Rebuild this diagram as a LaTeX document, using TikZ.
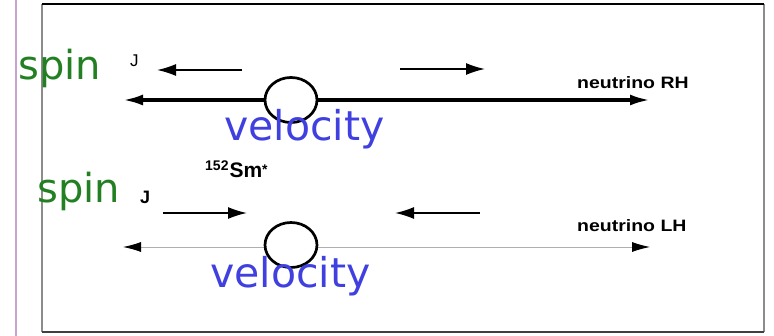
\documentclass[tikz,border=0pt]{standalone}
\usepackage{fontspec}
\setmainfont{DejaVu Sans}
\newfontfamily\labelfont{Liberation Sans}
\usetikzlibrary{arrows.meta,shapes.geometric}
\definecolor{spingreen}{RGB}{34,128,34}
\definecolor{velblue}{RGB}{64,64,224}
\definecolor{framegray}{RGB}{140,140,140}
\definecolor{slidepurple}{RGB}{200,160,210}
\begin{document}
\begin{tikzpicture}[x=1pt,y=-1pt,
  spinlabel/.style={text=spingreen,inner sep=0pt,font=\fontsize{40}{40}\selectfont},
  vellabel/.style={text=velblue,inner sep=0pt,font=\fontsize{41}{41}\selectfont},
  smalllabel/.style={inner sep=0pt,font=\labelfont\bfseries\fontsize{16.5}{16.5}\selectfont,xscale=1.18},
  jlabel/.style={inner sep=0pt,font=\labelfont\bfseries\fontsize{18}{18}\selectfont},
  spinarrow/.style={line width=1.7pt,-{Latex[length=19pt,width=12pt]}},
  velthick/.style={line width=3.4pt,{Latex[length=20pt,width=11pt]}-{Latex[length=20pt,width=11pt]}},
  velthin/.style={line width=0.9pt,draw=framegray!70,{Latex[length=18pt,width=10pt,fill=black,color=black]}-{Latex[length=18pt,width=10pt,fill=black,color=black]}},
  nucleus/.style={draw=black,line width=2.7pt,fill=white,ellipse,minimum width=52pt,minimum height=45pt,inner sep=0pt}
]
\useasboundingbox (0,0) rectangle (774,336);
\fill[white] (0,0) rectangle (774,336);

% slide edge and frame
\draw[slidepurple,line width=1.2pt] (16,0) -- (16,336);
\draw[framegray,line width=1.5pt] (42,4) -- (42,332);
\draw[framegray,line width=1.5pt] (764,4) -- (764,332);
\draw[black!75,line width=2pt] (42,332) -- (764,332);
\draw[black,line width=2.5pt] (42,4) -- (764,4);

% ---- right-handed neutrino (upper row) ----
\coordinate (vRa) at (123,100);
\coordinate (vRb) at (650,100);
\draw[velthick] (vRa) -- (vRb);
\node[nucleus] (nucR) at (291,100) {};
\coordinate (sRa1) at (242,70);
\coordinate (sRb1) at (157,70);
\coordinate (sRa2) at (400,69);
\coordinate (sRb2) at (485,69);
\draw[spinarrow] (sRa1) -- (sRb1);
\draw[spinarrow] (sRa2) -- (sRb2);
\node[spinlabel,anchor=base west] (spinR) at (18,80) {spin};
\node[jlabel,anchor=base west,font=\labelfont\fontsize{17}{17}\selectfont] (jR) at (130,67) {J};
\node[smalllabel,anchor=base west] (nuR) at (577,89) {neutrino RH};
\node[vellabel,anchor=base west] (velR) at (224,141) {velocity};

% nucleus label
\node[inner sep=0pt,anchor=base west,font=\labelfont\bfseries\fontsize{21}{21}\selectfont] (sm) at (205,178)
  {\raisebox{7pt}{\fontsize{14}{14}\selectfont 152}\kern1pt Sm\raisebox{3pt}{\fontsize{14}{14}\selectfont *}};

% ---- left-handed neutrino (lower row) ----
\coordinate (vLa) at (123,247);
\coordinate (vLb) at (650,247);
\draw[velthin] (vLa) -- (vLb);
\node[nucleus] (nucL) at (291,245) {};
\coordinate (sLa1) at (163,213);
\coordinate (sLb1) at (247,213);
\coordinate (sLa2) at (480,213);
\coordinate (sLb2) at (395,213);
\draw[spinarrow] (sLa1) -- (sLb1);
\draw[spinarrow] (sLa2) -- (sLb2);
\node[spinlabel,anchor=base west] (spinL) at (37,203) {spin};
\node[jlabel,anchor=base west] (jL) at (140,204) {J};
\node[smalllabel,anchor=base west] (nuL) at (577,232) {neutrino LH};
\node[vellabel,anchor=base west] (velL) at (210,288) {velocity};
\end{tikzpicture}
\end{document}
